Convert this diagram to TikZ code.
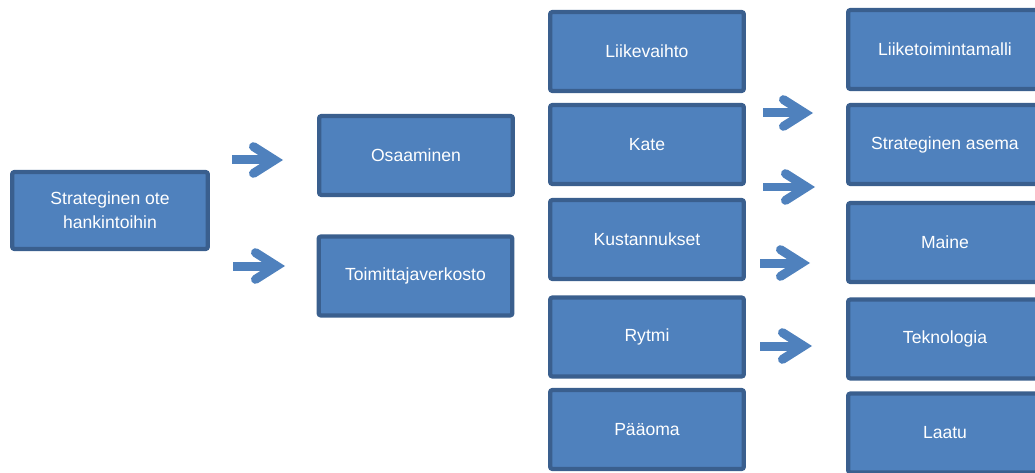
\documentclass[tikz,border=0pt]{standalone}
\usepackage{fontspec}
\setmainfont{Liberation Sans}
\usetikzlibrary{arrows.meta}
\definecolor{boxfill}{HTML}{4F81BD}
\definecolor{boxline}{HTML}{3A5F8E}

\begin{document}
\begin{tikzpicture}[x=0.025cm, y=-0.025cm,
  box/.style={draw=boxline, fill=boxfill, line width=3pt, rounded corners=1.5pt,
              minimum width=4.84cm, minimum height=1.97cm, inner sep=2pt,
              text=white, align=center, font=\fontsize{12.5}{17}\selectfont},
  arr/.style={draw=boxfill, line width=6.4pt,
              -{Straight Barb[length=15pt, width=19pt, line cap=round, line join=miter]}},
]
\useasboundingbox (0,0) rectangle (1035,473);
% start
\node[box, minimum width=4.89cm, minimum height=1.92cm] (hank) at (110,210.5)
      {Strateginen ote\\hankintoihin};
% second column
\node[box] (osaa) at (416,155.5) {Osaaminen};
\node[box] (toim) at (415.5,276) {Toimittajaverkosto};
% third column
\node[box] (liik) at (647,51.5)  {Liikevaihto};
\node[box] (kate) at (647,144.5) {Kate};
\node[box] (kust) at (647,239.5) {Kustannukset};
\node[box] (rytm) at (647,337)   {Rytmi};
\node[box] (paao) at (647,429.5) {Pääoma};
% fourth column
\node[box] (malli) at (945,49.5)  {Liiketoimintamalli};
\node[box] (asema) at (945,144.5) {Strateginen asema};
\node[box] (maine) at (945,242.5) {Maine};
\node[box] (tekn)  at (945,339)   {Teknologia};
\node[box] (laatu) at (945,433)   {Laatu};
% arrows
\coordinate (a1s) at (232,160); \coordinate (a1e) at (283,160);
\coordinate (a2s) at (233,266); \coordinate (a2e) at (285,266);
\coordinate (a3s) at (763,113); \coordinate (a3e) at (813,113);
\coordinate (a4s) at (763,187); \coordinate (a4e) at (815,187);
\coordinate (a5s) at (760,263); \coordinate (a5e) at (810,263);
\coordinate (a6s) at (760,346); \coordinate (a6e) at (812,346);
\foreach \i in {1,...,6}
  \draw[arr] (a\i s) -- (a\i e);
\end{tikzpicture}
\end{document}
